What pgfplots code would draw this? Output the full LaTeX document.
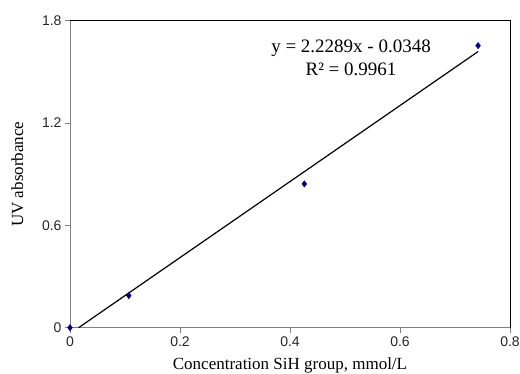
\documentclass[border=0pt]{standalone}
\usepackage{fontspec}
\setmainfont{Liberation Serif}
\setsansfont{Liberation Sans}
\usepackage{pgfplots}
\pgfplotsset{compat=1.18}
\definecolor{axgray}{RGB}{128,128,128}
\definecolor{navy}{RGB}{0,0,128}
\begin{document}
\begin{tikzpicture}[x=1pt,y=1pt]
\useasboundingbox (-70,-46.3) rectangle (450,327.7);
\begin{axis}[
  at={(0,0)}, anchor=origin,
  scale only axis, width=440pt, height=307pt,
  xmin=0, xmax=0.8, ymin=0, ymax=1.8,
  axis lines=left,
  axis line style={axgray, -},
  xtick={0,0.2,0.4,0.6,0.8},
  ytick={0,0.6,1.2,1.8},
  xticklabels={0,0.2,0.4,0.6,0.8},
  yticklabels={0,0.6,1.2,1.8},
  tick style={axgray, line width=0.8pt},
  tick align=outside,
  major tick length=5pt,
  ticklabel style={font=\sffamily\fontsize{14}{16}\selectfont, text=black!85},
  xlabel={Concentration SiH group, mmol/L},
  ylabel={UV absorbance},
  label style={font=\fontsize{17}{19}\selectfont},
  xlabel style={at={(axis description cs:0.5,0)}, anchor=north, yshift=-26pt},
  ylabel style={at={(axis description cs:0,0.5)}, anchor=south, yshift=43pt},
  clip=false,
]
\draw[black, line width=0.8pt] (rel axis cs:0,1) -- (rel axis cs:1,1) -- (rel axis cs:1,0);
\addplot[black, line width=1.2pt, no marks] coordinates {(0.0156,0) (0.742,1.6191)};
\addplot[only marks, mark=diamond*, mark size=3.2pt, color=navy] coordinates {
  (0,0) (0.107,0.188) (0.426,0.843) (0.742,1.654)};
\node[font=\fontsize{19}{23}\selectfont, align=center, inner sep=0pt] at (axis cs:0.511,1.585)
  {y = 2.2289x - 0.0348\\ R² = 0.9961};
\end{axis}
\end{tikzpicture}
\end{document}
